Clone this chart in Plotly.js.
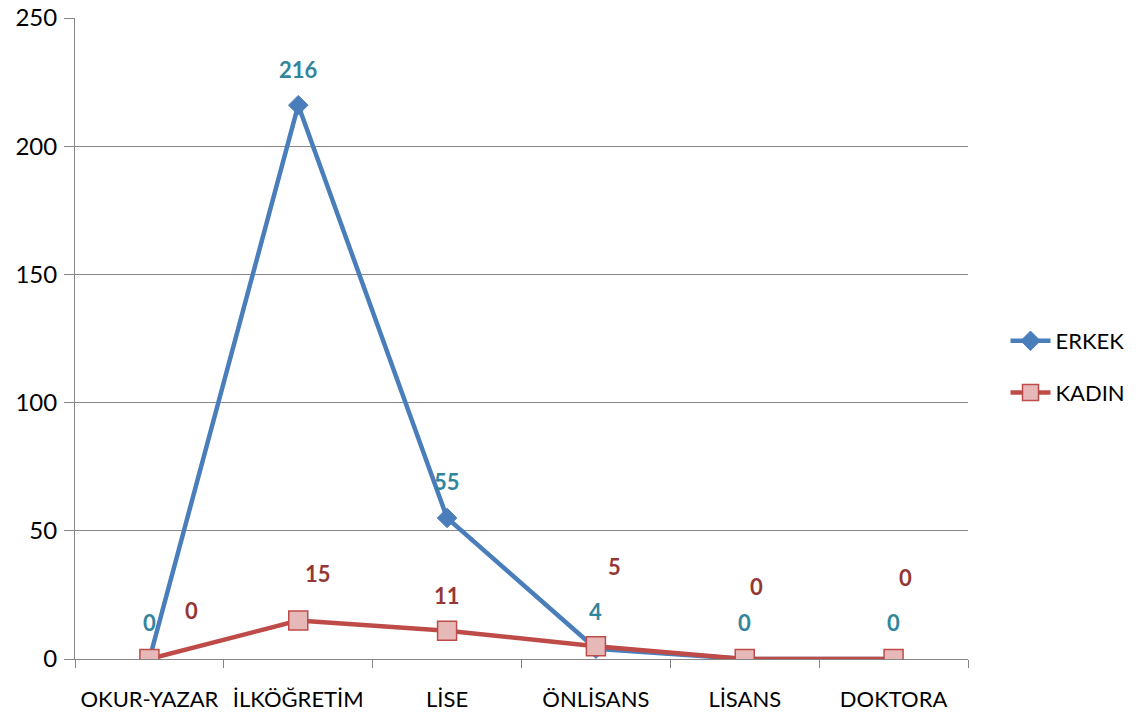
<!DOCTYPE html>
<html>
<head>
<meta charset="utf-8">
<script src="https://cdn.plot.ly/plotly-3.0.1.min.js"></script>
<style>html,body{margin:0;padding:0;background:#fff;}#chart{width:1146px;height:719px;}</style>
</head>
<body>
<div id="chart"></div>
<script>
const categories = ["OKUR-YAZAR", "İLKÖĞRETİM", "LİSE", "ÖNLİSANS", "LİSANS", "DOKTORA"];
const erkek = [0, 216, 55, 4, 0, 0];
const kadin = [0, 15, 11, 5, 0, 0];
const seriesNames = ["ERKEK", "KADIN"];
const yTicks = [0, 50, 100, 150, 200, 250];

// label offsets in pixels (manual label placement in the original)
const erkekLabelShift = [[0,-37],[0,-36],[0,-36],[0,-37],[0,-37],[0,-37]];
const kadinLabelShift = [[42,-49],[20,-47],[0,-35],[19,-80],[12,-73],[12,-82]];

const font = "Lato, 'Open Sans', sans-serif";

const traces = [
  {
    x: categories, y: erkek, name: seriesNames[0], type: "scatter", mode: "lines+markers",
    legendgroup: "a",
    line: {color: "#4A7EBB", width: 4.5},
    marker: {symbol: "diamond", size: 15, color: "#4A7EBB", line: {color: "#4A7EBB", width: 1}}
  },
  {
    x: categories, y: kadin, name: seriesNames[1], type: "scatter", mode: "lines+markers",
    legendgroup: "b",
    line: {color: "#BE4B48", width: 4.5},
    marker: {symbol: "square", size: 19, color: "#E6B9B8", line: {color: "#BE4B48", width: 1.5}}
  }
];

const annotations = [];
erkek.forEach((v, i) => annotations.push({
  x: categories[i], y: v, text: String(v), showarrow: false,
  xshift: erkekLabelShift[i][0], yshift: -erkekLabelShift[i][1],
  font: {family: font, size: 22, color: "#31859C", weight: "bold"}
}));
kadin.forEach((v, i) => annotations.push({
  x: categories[i], y: v, text: String(v), showarrow: false,
  xshift: kadinLabelShift[i][0], yshift: -kadinLabelShift[i][1],
  font: {family: font, size: 22, color: "#953735", weight: "bold"}
}));

const layout = {
  width: 1146, height: 719,
  margin: {l: 75, r: 178, t: 18, b: 60},
  paper_bgcolor: "#fff", plot_bgcolor: "#fff",
  font: {family: font, color: "#000"},
  showlegend: true,
  legend: {x: 1.042, xanchor: "left", y: 0.4555, yanchor: "middle",
    font: {family: font, size: 22, color: "#000"}, traceorder: "grouped", tracegroupgap: 20, itemwidth: 40,
    bgcolor: "rgba(0,0,0,0)"},
  xaxis: {
    type: "category", range: [-0.5, 5.5], tickson: "boundaries",
    ticks: "outside", ticklen: 8, tickcolor: "#868686", tickwidth: 1,
    showline: true, linecolor: "#868686", linewidth: 1,
    showgrid: false, zeroline: false, ticklabelstandoff: 21,
    tickfont: {family: font, size: 22, color: "#000"}, fixedrange: true
  },
  yaxis: {
    range: [0, 250], tickvals: yTicks, ticktext: yTicks.map(String),
    ticks: "outside", ticklen: 10, tickcolor: "#868686", tickwidth: 1,
    showline: true, linecolor: "#868686", linewidth: 1,
    showgrid: true, gridcolor: "#868686", gridwidth: 1, zeroline: false,
    tickfont: {family: font, size: 24, color: "#000"}, ticklabelstandoff: 2, fixedrange: true
  },
  annotations: annotations
};

Plotly.newPlot("chart", traces, layout, {displayModeBar: false, staticPlot: true});
</script>
</body>
</html>
